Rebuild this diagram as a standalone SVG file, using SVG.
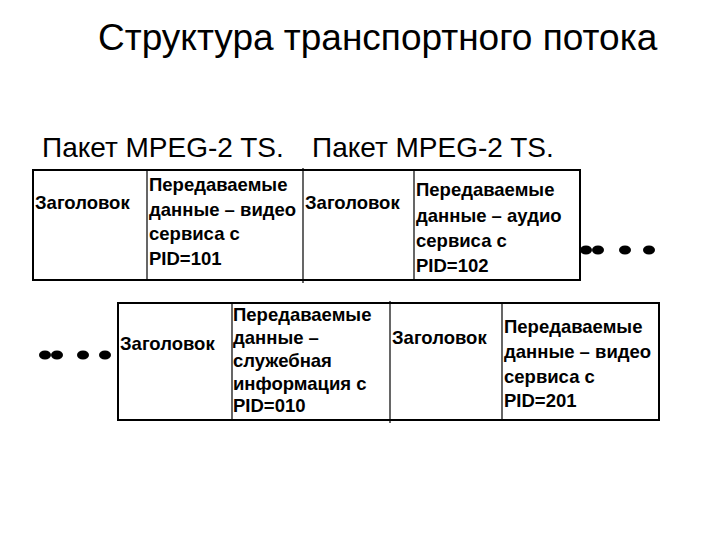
<svg xmlns="http://www.w3.org/2000/svg" width="720" height="540" viewBox="0 0 720 540">
<style>
.t{font-family:"Liberation Sans",Arial,sans-serif;font-size:18.5px;font-weight:bold;fill:#000}
.b{fill:none;stroke:#000;stroke-width:2}
.l{stroke:#000;stroke-width:1.2}
.h{font-family:"Liberation Sans",Arial,sans-serif;fill:#000}
</style>
<rect width="720" height="540" fill="#fff"/>
<text class="h" x="98" y="50" font-size="37">Структура транспортного потока</text>
<text class="h" x="42" y="157" font-size="28">Пакет MPEG-2 TS.</text>
<text class="h" x="312" y="157" font-size="28">Пакет MPEG-2 TS.</text>
<g id="row1">
<rect class="b" x="33" y="170" width="547" height="110"/>
<line class="l" x1="147" y1="170" x2="147" y2="280"/>
<line class="l" x1="303" y1="168" x2="303" y2="283"/>
<line class="l" x1="414" y1="170" x2="414" y2="280"/>
</g>
<g id="n1"><text class="t" x="35" y="209">Заголовок</text></g>
<g id="n2"><text class="t" x="149" y="191">Передаваемые</text><text class="t" x="149" y="216">данные – видео</text><text class="t" x="149" y="240">сервиса с</text><text class="t" x="149" y="265">PID=101</text></g>
<g id="n3"><text class="t" x="305" y="209">Заголовок</text></g>
<g id="n4"><text class="t" x="416" y="196">Передаваемые</text><text class="t" x="416" y="222">данные – аудио</text><text class="t" x="416" y="247">сервиса с</text><text class="t" x="416" y="272">PID=102</text></g>
<g id="dots1" fill="#000"><ellipse cx="586" cy="250" rx="6" ry="4.5"/><ellipse cx="598" cy="250" rx="6" ry="4.5"/><ellipse cx="625" cy="250" rx="6" ry="4.5"/><ellipse cx="649" cy="250" rx="6" ry="4.5"/></g>
<g id="row2">
<rect class="b" x="118" y="303" width="541" height="117"/>
<line class="l" x1="232" y1="303" x2="232" y2="420"/>
<line class="l" x1="390" y1="301" x2="390" y2="423"/>
<line class="l" x1="502" y1="303" x2="502" y2="420"/>
</g>
<g id="n5"><text class="t" x="120" y="350">Заголовок</text></g>
<g id="n6"><text class="t" x="233" y="321">Передаваемые</text><text class="t" x="233" y="344">данные –</text><text class="t" x="233" y="367">служебная</text><text class="t" x="233" y="390">информация с</text><text class="t" x="233" y="412">PID=010</text></g>
<g id="n7"><text class="t" x="392" y="344">Заголовок</text></g>
<g id="n8"><text class="t" x="504" y="333">Передаваемые</text><text class="t" x="504" y="358">данные – видео</text><text class="t" x="504" y="383">сервиса с</text><text class="t" x="504" y="407">PID=201</text></g>
<g id="dots2" fill="#000"><ellipse cx="45" cy="355" rx="6" ry="4.5"/><ellipse cx="57" cy="355" rx="6" ry="4.5"/><ellipse cx="83" cy="355" rx="6" ry="4.5"/><ellipse cx="105" cy="355" rx="6" ry="4.5"/></g>
</svg>
